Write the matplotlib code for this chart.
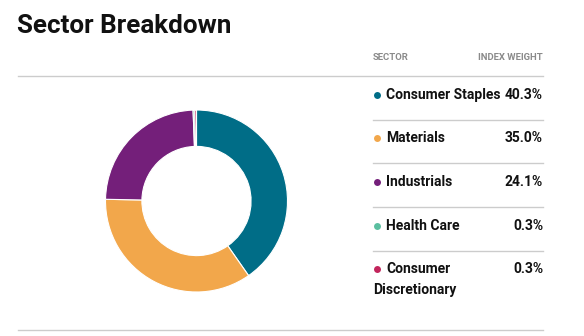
import matplotlib.pyplot as plt

# sector weights (percent of index)
sectors = ["Consumer Staples", "Materials", "Industrials", "Health Care", "Consumer\nDiscretionary"]
weights = [40.3, 35.0, 24.1, 0.3, 0.3]
colors = ["#006d87", "#f2a74b", "#741f7a", "#5bbfa0", "#c2255c"]

W, H = 584, 336
fig = plt.figure(figsize=(W / 100, H / 100), dpi=100)
plt.rcParams['font.family'] = ['Roboto', 'DejaVu Sans']


def px(x, y):
    return x / W, 1 - y / H


# title
fig.text(*px(17, 26), "Sector Breakdown", fontsize=18.7, fontweight='bold',
         va='center', ha='left', color='#111111')

# donut
cx, cy, r = 196.5, 201, 91
ax = fig.add_axes([(cx - r) / W, (H - cy - r) / H, 2 * r / W, 2 * r / H])
ax.pie(weights, colors=colors, startangle=90, counterclock=False,
       wedgeprops=dict(width=0.4, edgecolor='white', linewidth=0.8))
ax.set_xlim(-1, 1)
ax.set_ylim(-1, 1)
ax.set_aspect('auto')
ax.axis('off')

# table header
fig.text(*px(373, 58), "SECTOR", fontsize=6.8, fontweight='bold', color='#8a8a8a', va='center')
fig.text(*px(543, 58), "INDEX WEIGHT", fontsize=6.8, fontweight='bold', color='#8a8a8a',
         va='center', ha='right')
fig.add_artist(plt.Line2D([18 / W, 543 / W], [1 - 76 / H] * 2, color='#cccccc', lw=1))

# table rows
row_y = [95, 138, 182, 226, 269]
for name, w, c, y in zip(sectors, weights, colors, row_y):
    fig.add_artist(plt.Line2D([377 / W], [1 - y / H], marker='o', markersize=5,
                              color=c, markeredgewidth=0))
    lines = name.split("\n")
    fig.text(*px(386, y), lines[0], fontsize=10, fontweight='semibold', color='#111111', va='center')
    if len(lines) > 1:
        fig.text(*px(373, y + 21), lines[1], fontsize=10, fontweight='semibold',
                 color='#111111', va='center')
    fig.text(*px(543, y), f"{w:.1f}%", fontsize=10, fontweight='semibold', color='#111111',
             va='center', ha='right')

for y in [120, 163, 207, 251]:
    fig.add_artist(plt.Line2D([373 / W, 543 / W], [1 - y / H] * 2, color='#cccccc', lw=1))
fig.add_artist(plt.Line2D([18 / W, 543 / W], [1 - 330 / H] * 2, color='#cccccc', lw=1))

fig.savefig("out.png", dpi=100, facecolor='white')
